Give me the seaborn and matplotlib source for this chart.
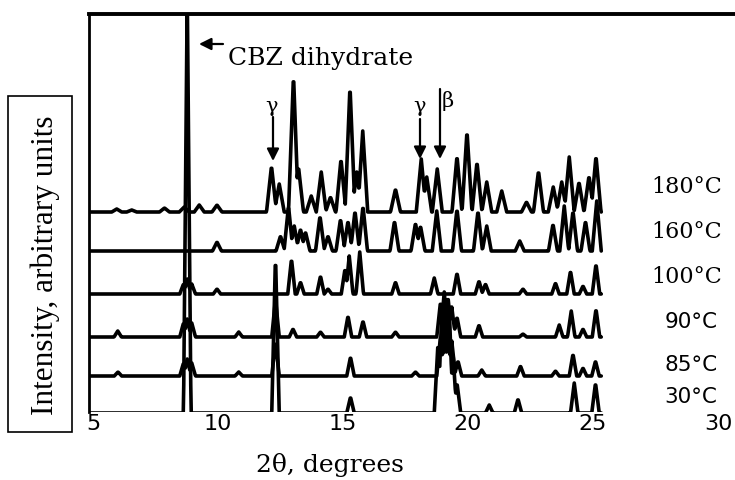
import numpy as np
import pandas as pd
import seaborn as sns
import matplotlib.pyplot as plt
from matplotlib.patches import Rectangle

# Sample labels and the baseline (vertical offset) of each stacked pattern
temps = ['180°C', '160°C', '100°C', '90°C', '85°C', '30°C']
offsets = [200, 161, 118, 75, 36, -1]

# Peak positions (2theta, degrees) and heights (arbitrary units)
pos_180 = [5.95, 6.55, 7.86, 8.65, 9.25, 9.96, 12.14, 12.45, 13.02, 13.22, 13.73, 14.13, 14.5,
           14.92, 15.28, 15.55, 15.79, 17.1, 18.13, 18.35, 18.77, 19.56, 19.96, 20.36, 20.75,
           21.35, 22.34, 22.82, 23.41, 23.75, 24.05, 24.44, 24.84, 25.12]
h_180 = [3, 2, 4, 5, 7, 7, 46, 28, 137, 45, 16, 40, 15,
         53, 126, 40, 81, 23, 53, 35, 43, 56, 81, 50, 30,
         21, 10, 41, 25, 30, 55, 30, 36, 56]

pos_160 = [9.96, 12.5, 12.82, 13.05, 13.3, 13.5, 14.08, 14.4, 14.9, 15.2, 15.48, 15.8, 17.06,
           17.9, 18.1, 18.75, 19.56, 20.4, 20.75, 22.07, 23.4, 23.85, 24.2, 24.7, 25.15]
h_160 = [9, 15, 45, 25, 22, 19, 35, 15, 32, 30, 40, 45, 30,
         28, 25, 40, 42, 40, 25, 10, 27, 45, 40, 30, 50]

pos_100 = [8.62, 8.77, 8.95, 9.96, 12.94, 13.3, 14.1, 14.4, 15.08, 15.25, 15.67, 17.1, 18.65,
           19.56, 20.44, 20.7, 22.2, 23.5, 24.1, 24.6, 25.12]
h_100 = [10, 15, 10, 5, 35, 12, 18, 5, 25, 38, 42, 12, 16,
         21, 13, 10, 5, 11, 23, 8, 30]

pos_90 = [5.99, 8.62, 8.77, 8.95, 10.83, 12.3, 13.0, 14.1, 15.2, 15.8, 17.1, 18.9, 19.05, 19.2,
          19.35, 19.56, 20.44, 22.2, 23.65, 24.13, 24.6, 25.12]
h_90 = [6, 14, 18, 14, 5, 38, 8, 5, 21, 16, 5, 35, 45, 40,
        30, 20, 12, 3, 12, 26, 8, 28]

pos_85 = [6.0, 8.62, 8.77, 8.95, 10.83, 12.3, 15.3, 17.9, 18.9, 19.05, 19.2, 19.35, 19.6, 20.55,
          22.1, 23.5, 24.2, 24.6, 25.1]
h_85 = [4, 13, 17, 13, 4, 34, 19, 4, 40, 45, 45, 35, 15, 6,
        10, 5, 22, 8, 15]

pos_30 = [8.77, 12.3, 15.3, 18.8, 18.95, 19.1, 19.25, 19.4, 19.56, 20.85, 22.0, 24.25, 25.1]
h_30 = [420, 158, 16, 70, 100, 115, 105, 60, 30, 8, 14, 30, 30]

tick_vals = [5, 10, 15, 20, 25, 30]

peak_pos = [pos_180, pos_160, pos_100, pos_90, pos_85, pos_30]
peak_h = [h_180, h_160, h_100, h_90, h_85, h_30]
half_widths = [0.2, 0.18, 0.15, 0.15, 0.15, 0.15]

#Building the stacked patterns as a long table
theta = np.arange(4.85, 25.35, 0.02)
frames = []
for temp, off, pos, hts, hw in zip(temps, offsets, peak_pos, peak_h, half_widths):
    tri = np.array([h * np.clip(1 - np.abs(theta - p) / hw, 0, None) for p, h in zip(pos, hts)])
    frames.append(pd.DataFrame({'theta': theta, 'intensity': off + tri.max(axis=0), 'sample': temp}))
df = pd.concat(frames, ignore_index=True)

sns.set_style('white')
plt.rcParams['text.color'] = 'black'
plt.rcParams['xtick.color'] = 'black'
fig = plt.figure(figsize=(7.35, 4.81), dpi=100)
ax = fig.add_axes([89 / 735, 68 / 481, 646 / 735, 398 / 481])

sns.lineplot(data=df, x='theta', y='intensity', hue='sample', palette=['black'] * len(temps),
             legend=False, estimator=None, sort=False, linewidth=2.6, ax=ax)

ax.set_xlim(4.84, 30.68)
ax.set_ylim(0, 398)
ax.set_xticks(tick_vals)
ax.set_xticklabels([str(t) for t in tick_vals], fontsize=16, family='DejaVu Sans', color='black')
ax.set_yticks([318])
ax.set_yticklabels([])
ax.tick_params(axis='x', length=0, pad=1)
ax.tick_params(axis='y', direction='in', length=4, width=1.5, color='black')
ax.set_xlabel('')
ax.set_ylabel('')
ax.spines['bottom'].set_visible(False)
ax.spines['right'].set_visible(False)
ax.spines['left'].set_linewidth(2)
ax.spines['left'].set_color('black')
ax.spines['top'].set_linewidth(2.8)
ax.spines['top'].set_color('black')

#Sample labels on the right
label_y = [226, 181, 136, 91, 48, 16]
for temp, ly in zip(temps, label_y):
    if temp in ('180°C', '160°C', '100°C'):
        ax.text(27.35, ly, temp, fontsize=16, family='DejaVu Serif', va='center', ha='left')
    else:
        ax.text(27.85, ly, temp, fontsize=15.5, family='DejaVu Sans', va='center', ha='left')

#Annotations
arrow = dict(arrowstyle='-|>', color='black', lw=1.6, mutation_scale=18, shrinkA=0, shrinkB=0)
ax.annotate('', xy=(9.24, 368), xytext=(10.2, 368), arrowprops=arrow)
ax.text(10.4, 355, 'CBZ dihydrate', fontsize=18, family='DejaVu Serif', va='center', ha='left')
ax.annotate('', xy=(12.2, 251), xytext=(12.2, 295), arrowprops=arrow)
ax.text(12.16, 306, 'γ', fontsize=15, family='DejaVu Serif', va='center', ha='center')
ax.annotate('', xy=(18.08, 253), xytext=(18.08, 293), arrowprops=arrow)
ax.text(18.05, 306, 'γ', fontsize=15, family='DejaVu Serif', va='center', ha='center')
ax.annotate('', xy=(18.88, 253), xytext=(18.88, 323), arrowprops=arrow)
ax.text(19.2, 312, 'β', fontsize=15, family='DejaVu Serif', va='center', ha='center')

#Axis titles
fig.text(330 / 735, 1 - 465 / 481, '2θ, degrees', fontsize=18, family='DejaVu Serif',
         ha='center', va='center')
fig.add_artist(Rectangle((8 / 735, 1 - 433 / 481), 64 / 735, 336 / 481, transform=fig.transFigure,
                         fill=False, lw=1.2, edgecolor='black'))
fig.text(45 / 735, 1 - 265 / 481, 'Intensity, arbitrary units', fontsize=22.5, family='Liberation Serif',
         rotation=90, ha='center', va='center')

plt.savefig('out.png', dpi=100)
